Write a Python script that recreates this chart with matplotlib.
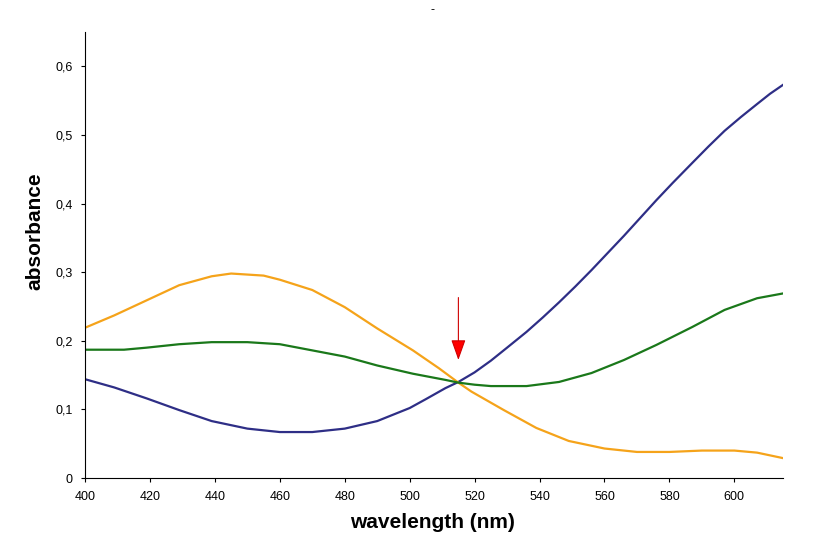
import matplotlib
matplotlib.use("Agg")
import matplotlib.pyplot as plt
from matplotlib.ticker import FuncFormatter

# wavelength (nm) and absorbance of the three spectra
wl_blue = [400, 409, 419, 429, 439, 450, 460, 470, 480, 490, 500, 505, 511, 515,
           520, 525, 530, 536, 541, 546, 551, 556, 561, 566, 571, 576, 581, 587,
           592, 597, 602, 607, 611, 615]
abs_blue = [0.144, 0.132, 0.116, 0.099, 0.083, 0.072, 0.067, 0.067, 0.072, 0.083,
            0.102, 0.115, 0.131, 0.140, 0.154, 0.171, 0.190, 0.213, 0.234, 0.256,
            0.279, 0.303, 0.328, 0.353, 0.379, 0.405, 0.430, 0.459, 0.483, 0.506,
            0.526, 0.545, 0.560, 0.573]

wl_orange = [400, 409, 419, 429, 439, 445, 455, 460, 470, 480, 490, 501, 509, 515,
             519, 529, 539, 549, 560, 570, 580, 590, 600, 607, 615]
abs_orange = [0.219, 0.237, 0.259, 0.281, 0.294, 0.298, 0.295, 0.289, 0.274, 0.249,
              0.218, 0.186, 0.160, 0.139, 0.126, 0.099, 0.073, 0.054, 0.043, 0.038,
              0.038, 0.040, 0.040, 0.037, 0.029]

wl_green = [400, 412, 419, 429, 439, 450, 460, 470, 480, 490, 501, 511, 515, 520,
            525, 536, 546, 556, 566, 576, 587, 597, 607, 615]
abs_green = [0.187, 0.187, 0.190, 0.195, 0.198, 0.198, 0.195, 0.186, 0.177, 0.164,
             0.152, 0.143, 0.139, 0.136, 0.134, 0.134, 0.140, 0.153, 0.172, 0.194,
             0.220, 0.245, 0.262, 0.269]

# isosbestic point marker
arrow_x = 515
arrow_from = 0.263
arrow_to = 0.172

plt.rcParams['font.family'] = ['Liberation Sans', 'DejaVu Sans']

fig = plt.figure(figsize=(8.28, 5.47), dpi=100)
ax = fig.add_axes([0.1027, 0.1261, 0.8430, 0.8154])

ax.plot(wl_blue, abs_blue, color='#2E2E86', lw=1.6)
ax.plot(wl_orange, abs_orange, color='#F5A31A', lw=1.6)
ax.plot(wl_green, abs_green, color='#1A781A', lw=1.6)

ax.annotate('', xy=(arrow_x, arrow_to), xytext=(arrow_x, arrow_from),
            arrowprops=dict(arrowstyle='-|>,head_length=0.9,head_width=0.32',
                            color='#D00000', fc='#FF0000', lw=0.8,
                            mutation_scale=14, shrinkA=0, shrinkB=0))

ax.set_xlim(400, 615)
ax.set_ylim(0, 0.65)
ax.set_xticks(range(400, 601, 20))
ax.set_yticks([0, 0.1, 0.2, 0.3, 0.4, 0.5, 0.6])
ax.yaxis.set_major_formatter(FuncFormatter(lambda v, p: ('%g' % round(v, 2)).replace('.', ',')))
ax.tick_params(labelsize=9, length=3, width=0.8, direction='out', pad=6)

for side in ['top', 'right']:
    ax.spines[side].set_visible(False)

fig.text(433 / 828, 1 - 523 / 547, 'wavelength (nm)', fontsize=15,
         fontweight='bold', ha='center', va='center')
fig.text(35 / 828, 1 - 231 / 547, 'absorbance', fontsize=15, fontweight='bold',
         rotation=90, ha='center', va='center')
fig.text(433 / 828, 1 - 10 / 547, '-', ha='center', va='center', fontsize=9)

plt.savefig('out.png', dpi=100)
